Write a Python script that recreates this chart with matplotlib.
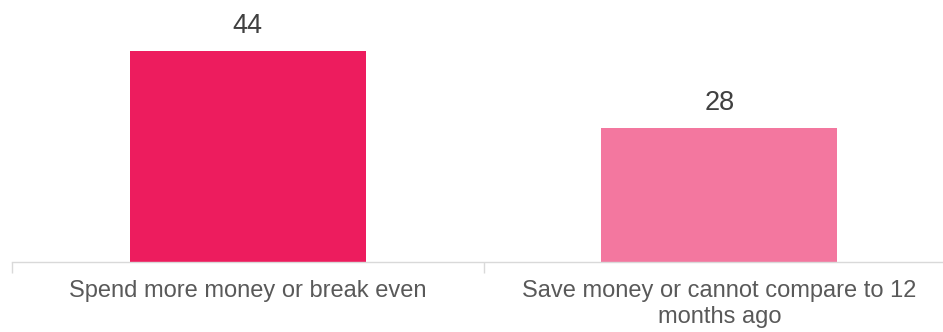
import matplotlib
matplotlib.use("Agg")
import matplotlib.pyplot as plt

categories = ["Spend more money or break even", "Save money or cannot compare to 12\nmonths ago"]
values = [44, 28]
colors = ["#ED1C5E", "#F3779F"]

plt.rcParams['font.family'] = ['Liberation Sans', 'DejaVu Sans']

fig = plt.figure(figsize=(9.43, 3.32), dpi=100)
ax = fig.add_axes([12/943, (332-262)/332, 943/943, 262/332])
x = list(range(len(categories)))
bars = ax.bar(x, values, width=0.5, color=colors, zorder=2)
ax.set_xlim(-0.5, len(categories) - 0.5)
ax.set_ylim(0, 262/4.8)
for xi, v in zip(x, values):
    ax.annotate(str(v), (xi, v), xytext=(0, 13), textcoords="offset points",
                ha="center", va="baseline", fontsize=19.5, color="#404040")
for s in ["top", "right", "left"]:
    ax.spines[s].set_visible(False)
ax.spines["bottom"].set_color("#D9D9D9")
ax.spines["bottom"].set_linewidth(1.0)
ax.set_yticks([])
ax.set_xticks([i - 0.5 for i in range(len(categories) + 1)])
ax.set_xticklabels([])
ax.tick_params(axis="x", which="major", length=8, color="#D9D9D9", width=1.0)
for xi, c in zip(x, categories):
    ax.annotate(c, (xi, 0), xycoords=("data", "axes fraction"), xytext=(0, -13),
                textcoords="offset points", ha="center", va="top",
                multialignment="center", fontsize=17, color="#595959",
                linespacing=1.22, annotation_clip=False)
fig.savefig("out.png", dpi=100)
